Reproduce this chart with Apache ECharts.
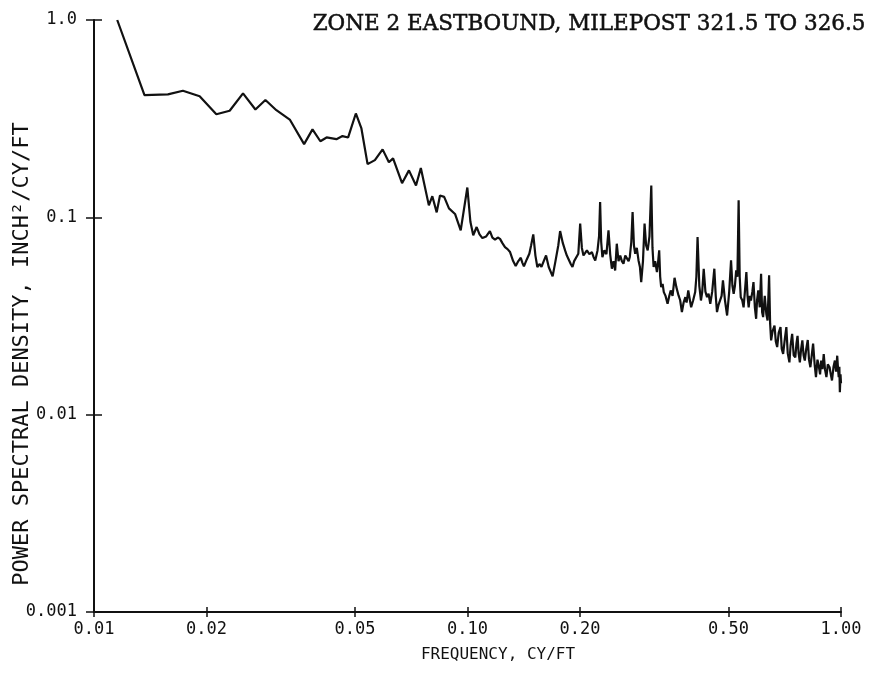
<!DOCTYPE html>
<html>
<head>
<meta charset="utf-8">
<script src="https://cdn.jsdelivr.net/npm/echarts@6/dist/echarts.min.js"></script>
<style>
  html, body { margin: 0; padding: 0; background: #fff; }
  #chart { width: 872px; height: 674px; }
</style>
</head>
<body>
<div id="chart"></div>
<script>
  // frequency (cy/ft) and power spectral density (inch^2/cy/ft)
  // low band, 0.01 - 0.1
  const freqLow = [
    0.01154, 0.01365, 0.01577, 0.01730, 0.01918, 0.02126, 0.02308, 0.02506, 0.02705, 0.02877,
    0.03078, 0.03343, 0.03652, 0.03846, 0.04037, 0.04195, 0.04457, 0.04627, 0.04791, 0.05024,
    0.05200, 0.05401, 0.05650, 0.05925, 0.06160, 0.0632, 0.0668, 0.0697, 0.0728, 0.0750,
    0.0788, 0.0805, 0.0827, 0.0844, 0.0866, 0.0892, 0.0926, 0.0959, 0.0999
  ]
  const psdLow = [
    1.0, 0.416, 0.420, 0.438, 0.411, 0.333, 0.347, 0.425, 0.352, 0.393,
    0.349, 0.313, 0.235, 0.279, 0.243, 0.254, 0.249, 0.258, 0.254, 0.336,
    0.282, 0.186, 0.195, 0.221, 0.190, 0.199, 0.149, 0.173, 0.145, 0.178,
    0.115, 0.128, 0.106, 0.129, 0.127, 0.111, 0.104, 0.0859, 0.1416
  ]

  // mid band, 0.1 - 0.3
  const freqMid = [
    0.1018, 0.1036, 0.1058, 0.1077, 0.1096, 0.1122, 0.1148, 0.1166, 0.1185, 0.1205,
    0.1222, 0.1240, 0.1260, 0.128, 0.130, 0.1325, 0.1346, 0.1368, 0.1389, 0.1402,
    0.1416, 0.1440, 0.1464, 0.148, 0.150, 0.152, 0.1538, 0.1558, 0.1578, 0.160,
    0.1623, 0.1650, 0.169, 0.172, 0.175, 0.177, 0.180, 0.1825, 0.1845, 0.1862,
    0.189, 0.191, 0.193, 0.195, 0.198, 0.2003, 0.2024, 0.2044, 0.2066, 0.2088,
    0.212, 0.2153, 0.2175, 0.2198, 0.2229, 0.2250, 0.2265, 0.2280, 0.2297, 0.2325,
    0.2355, 0.2385, 0.2410, 0.2435, 0.2460, 0.2485, 0.2510, 0.2537, 0.2564, 0.2590,
    0.2616, 0.2645, 0.2673, 0.2700, 0.2720, 0.2745, 0.2767, 0.2790, 0.2812, 0.284,
    0.287, 0.2895, 0.2918, 0.2950, 0.2979
  ]
  const psdMid = [
    0.095, 0.0811, 0.0893, 0.0820, 0.0785, 0.0800, 0.0852, 0.0790, 0.0771, 0.0790,
    0.0778, 0.0740, 0.0706, 0.0690, 0.0667, 0.0600, 0.0566, 0.0600, 0.0624, 0.0590,
    0.0564, 0.0610, 0.0654, 0.0720, 0.0820, 0.0640, 0.0560, 0.0580, 0.0562, 0.0600,
    0.0641, 0.0560, 0.0502, 0.0600, 0.0720, 0.0852, 0.0740, 0.0680, 0.0640, 0.0617,
    0.0580, 0.0560, 0.0600, 0.0593, 0.0654, 0.0929, 0.0700, 0.0641, 0.0660, 0.0680,
    0.0650, 0.0667, 0.0630, 0.0605, 0.0680, 0.0800, 0.1196, 0.0750, 0.0628, 0.0680,
    0.0650, 0.0859, 0.0650, 0.0549, 0.0600, 0.0538, 0.0735, 0.0600, 0.0641, 0.0600,
    0.0582, 0.0640, 0.0654, 0.0600, 0.0630, 0.0750, 0.1064, 0.0720, 0.0654, 0.0700,
    0.0605, 0.0560, 0.0470, 0.0600, 0.0929
  ]

  // high band, 0.3 - 1.0
  const freqHigh = [
    0.3008, 0.3037, 0.3070, 0.3105, 0.3128, 0.3150, 0.3180, 0.3215, 0.3240, 0.326,
    0.328, 0.330, 0.333, 0.3354, 0.339, 0.3433, 0.347, 0.3500, 0.354, 0.3584,
    0.3624, 0.3673, 0.371, 0.375, 0.379, 0.383, 0.386, 0.390, 0.394, 0.397,
    0.402, 0.407, 0.410, 0.413, 0.4175, 0.4217, 0.425, 0.4290, 0.4335, 0.4379,
    0.442, 0.4467, 0.452, 0.458, 0.462, 0.4656, 0.470, 0.474, 0.479, 0.483,
    0.489, 0.4955, 0.502, 0.5077, 0.512, 0.516, 0.520, 0.524, 0.528, 0.532,
    0.5355, 0.539, 0.544, 0.5485, 0.553, 0.558, 0.562, 0.566, 0.570, 0.574,
    0.579, 0.583, 0.588, 0.5926, 0.596, 0.6005, 0.606, 0.611, 0.615, 0.6187,
    0.625, 0.631, 0.636, 0.642, 0.646, 0.650, 0.656, 0.6637, 0.669, 0.6747,
    0.681, 0.6887, 0.694, 0.700, 0.707, 0.714, 0.720, 0.7276, 0.733, 0.740,
    0.747, 0.7545, 0.760, 0.765, 0.770, 0.776, 0.782, 0.788, 0.794, 0.800,
    0.807, 0.8147, 0.821, 0.828, 0.835, 0.842, 0.850, 0.857, 0.865, 0.873,
    0.879, 0.885, 0.892, 0.899, 0.906, 0.914, 0.922, 0.932, 0.939, 0.946,
    0.955, 0.963, 0.970, 0.977, 0.982, 0.986, 0.990, 0.993, 0.997, 1.0
  ]
  const psdHigh = [
    0.0720, 0.0680, 0.0800, 0.145, 0.0700, 0.0560, 0.0600, 0.0528, 0.0600, 0.0680,
    0.0500, 0.0443, 0.0460, 0.0418, 0.0400, 0.0365, 0.0400, 0.0426, 0.0400, 0.0494,
    0.0443, 0.0402, 0.0380, 0.0331, 0.0370, 0.0394, 0.0370, 0.0426, 0.0380, 0.0350,
    0.0380, 0.0418, 0.0500, 0.0794, 0.0450, 0.0379, 0.0418, 0.0549, 0.0420, 0.0394,
    0.0410, 0.0365, 0.0420, 0.0549, 0.0400, 0.0331, 0.0360, 0.0360, 0.0400, 0.0479,
    0.0380, 0.0318, 0.0420, 0.0605, 0.0450, 0.0410, 0.0450, 0.0538, 0.0500, 0.122,
    0.0500, 0.0394, 0.0380, 0.0350, 0.0420, 0.0528, 0.0400, 0.0350, 0.0400, 0.0379,
    0.0420, 0.0470, 0.0350, 0.0306, 0.0380, 0.0426, 0.0350, 0.0518, 0.0330, 0.0312,
    0.0400, 0.0324, 0.0300, 0.0508, 0.0290, 0.0238, 0.0265, 0.0283, 0.0235, 0.0220,
    0.0260, 0.0278, 0.0215, 0.0203, 0.0240, 0.0278, 0.0205, 0.0184, 0.0225, 0.0257,
    0.0200, 0.0195, 0.0230, 0.0251, 0.0205, 0.0184, 0.0215, 0.0238, 0.0200, 0.0188,
    0.0215, 0.0239, 0.0190, 0.0174, 0.0200, 0.0229, 0.0180, 0.0155, 0.0190, 0.0174,
    0.0160, 0.0188, 0.0170, 0.0203, 0.0170, 0.0155, 0.0180, 0.0174, 0.0160, 0.0149,
    0.0175, 0.0188, 0.0165, 0.0199, 0.0170, 0.0155, 0.0175, 0.0130, 0.0160, 0.0144
  ]

  const xTicks = [0.01, 0.02, 0.05, 0.1, 0.2, 0.5, 1.0]
  const yTicks = [0.001, 0.01, 0.1, 1.0]

  const freq = freqLow.concat(freqMid, freqHigh)
  const psd = psdLow.concat(psdMid, psdHigh)

  const ink = '#111'
  const mono = "'DejaVu Sans Mono', monospace"

  let chart = echarts.init(document.getElementById('chart'))

  // the second axis of each pair only draws the inner half of the ticks
  function xAxisItem(inner) {
    return {
      type: 'log',
      min: 0.01,
      max: 1,
      position: 'bottom',
      axisLine: { show: !inner, lineStyle: { color: ink, width: 2 } },
      axisTick: {
        show: true,
        inside: inner,
        length: 5,
        customValues: xTicks,
        lineStyle: { color: ink, width: 1.5 }
      },
      axisLabel: {
        show: !inner,
        customValues: xTicks,
        margin: 9,
        color: ink,
        fontFamily: mono,
        fontSize: 17,
        formatter: v => Number(v).toFixed(2)
      },
      splitLine: { show: false }
    }
  }

  function yAxisItem(inner) {
    return {
      type: 'log',
      min: 0.001,
      max: 1,
      position: 'left',
      axisLine: { show: !inner, lineStyle: { color: ink, width: 2 } },
      axisTick: {
        show: true,
        inside: inner,
        length: 8,
        customValues: yTicks,
        lineStyle: { color: ink, width: 1.5 }
      },
      axisLabel: {
        show: !inner,
        customValues: yTicks,
        margin: 17,
        color: ink,
        fontFamily: mono,
        fontSize: 17,
        formatter: v => (Number(v) === 1 ? '1.0' : String(Number(v)))
      },
      splitLine: { show: false }
    }
  }

  chart.setOption({
    animation: false,
    title: {
      text: 'ZONE 2 EASTBOUND, MILEPOST 321.5 TO 326.5',
      right: 1,
      top: 8,
      textStyle: {
        fontFamily: "'DejaVu Serif', serif",
        fontSize: 21.5,
        fontWeight: 'normal',
        color: ink,
        textBorderColor: ink,
        textBorderWidth: 0.5
      }
    },
    grid: { left: 94, right: 31, top: 20, bottom: 62 },
    xAxis: [xAxisItem(false), xAxisItem(true)],
    yAxis: [yAxisItem(false), yAxisItem(true)],
    graphic: [
      {
        type: 'text',
        x: 22,
        y: 354,
        rotation: Math.PI / 2,
        style: {
          text: 'POWER SPECTRAL DENSITY, INCH²/CY/FT',
          fontFamily: mono,
          fontSize: 22,
          fill: ink,
          align: 'center',
          verticalAlign: 'middle'
        }
      },
      {
        type: 'text',
        x: 498,
        y: 655,
        style: {
          text: 'FREQUENCY, CY/FT',
          fontFamily: mono,
          fontSize: 16,
          fill: ink,
          align: 'center',
          verticalAlign: 'middle'
        }
      }
    ],
    series: [
      {
        type: 'line',
        xAxisIndex: 0,
        yAxisIndex: 0,
        showSymbol: false,
        lineStyle: { color: ink, width: 2.2 },
        data: freq.map((f, i) => [f, psd[i]])
      }
    ]
  })
</script>
</body>
</html>
